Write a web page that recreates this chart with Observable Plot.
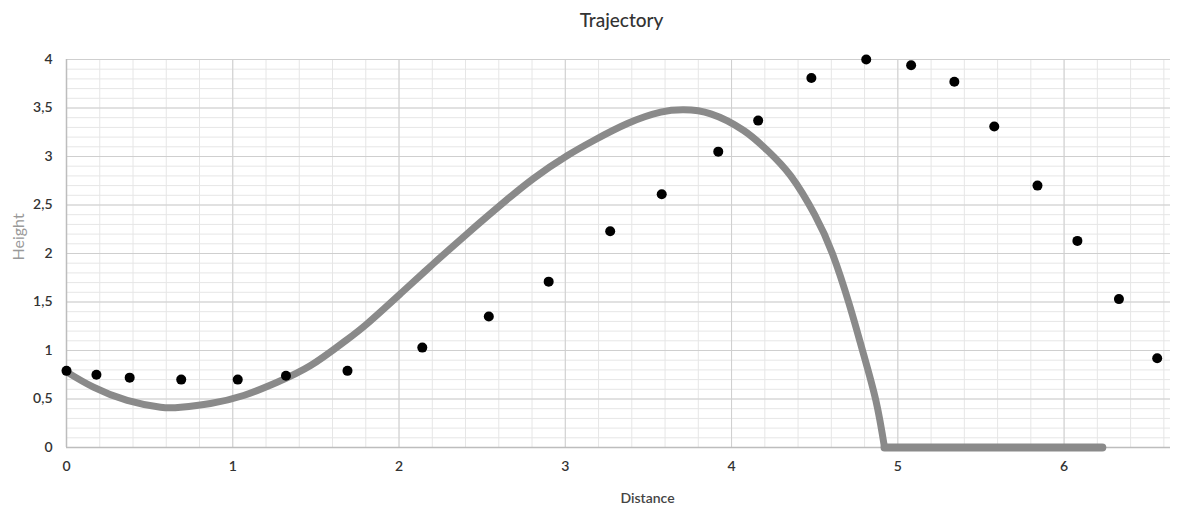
<!DOCTYPE html>
<html>
<head>
<meta charset="utf-8">
<script src="https://cdn.jsdelivr.net/npm/d3@7"></script>
<script src="https://cdn.jsdelivr.net/npm/@observablehq/plot@0.6"></script>
<style>
  html, body { margin: 0; padding: 0; background: #ffffff; }
</style>
</head>
<body>
<div id="chart"></div>
<script>
// Measured points (black dots)
const measX = [0, 0.18, 0.38, 0.69, 1.03, 1.32, 1.69, 2.14, 2.54, 2.90, 3.27, 3.58, 3.92, 4.16, 4.48, 4.81, 5.08, 5.34, 5.58, 5.84, 6.08, 6.33, 6.56];
const measY = [0.79, 0.75, 0.72, 0.70, 0.70, 0.74, 0.79, 1.03, 1.35, 1.71, 2.23, 2.61, 3.05, 3.37, 3.81, 4.00, 3.94, 3.77, 3.31, 2.70, 2.13, 1.53, 0.92];

// Model trajectory (grey curve): flight part
const curveX = [0, 0.162, 0.365, 0.566, 0.686, 0.866, 1.065, 1.267, 1.468, 1.667, 1.809, 2.010, 2.208, 2.411, 2.611, 2.810, 3.013, 3.171, 3.374, 3.574, 3.713, 3.875, 4.073, 4.216, 4.356, 4.500, 4.607, 4.707, 4.788, 4.868, 4.92];
const curveY = [0.78, 0.622, 0.485, 0.415, 0.415, 0.454, 0.536, 0.673, 0.845, 1.086, 1.278, 1.588, 1.897, 2.206, 2.500, 2.775, 3.010, 3.165, 3.340, 3.457, 3.481, 3.440, 3.268, 3.062, 2.800, 2.400, 1.997, 1.481, 0.998, 0.485, 0];
// ground part (curve rests at zero)
const groundX = [4.92, 6.23];
const groundY = [0, 0];

// Axis ticks
const xTicks = [0, 1, 2, 3, 4, 5, 6];
const yTicks = [0, 0.5, 1, 1.5, 2, 2.5, 3, 3.5, 4];
const xMinor = d3.range(0, 6.61, 0.2).map(v => +v.toFixed(2));
const yMinor = d3.range(0, 4.001, 0.1).map(v => +v.toFixed(2));

const measured = measX.map((x, i) => ({x, y: measY[i]}));
const curve = curveX.map((x, i) => ({x, y: curveY[i]}));
const ground = groundX.map((x, i) => ({x, y: groundY[i]}));

const fmt = d => String(d).replace(".", ",");

const lineStyle = { x: "x", y: "y", stroke: "#8a8a8a", strokeWidth: 7, strokeLinecap: "round", strokeLinejoin: "round" };

const chart = Plot.plot({
  width: 1181,
  height: 515,
  marginLeft: 66,
  marginRight: 11,
  marginTop: 59,
  marginBottom: 68,
  style: { fontFamily: "Lato, 'Open Sans', sans-serif", fontSize: "14px", color: "#333", background: "#ffffff" },
  x: { domain: [0, 6.64] },
  y: { domain: [0, 4] },
  marks: [
    Plot.ruleX(xMinor, { stroke: "#e6e6e6", strokeWidth: 1 }),
    Plot.ruleY(yMinor, { stroke: "#e6e6e6", strokeWidth: 1 }),
    Plot.ruleX(xTicks, { stroke: "#cfcfcf", strokeWidth: 1 }),
    Plot.ruleY(yTicks, { stroke: "#cfcfcf", strokeWidth: 1 }),
    Plot.ruleY([0], { stroke: "#bdbdbd", strokeWidth: 1.5 }),
    Plot.ruleX([0], { stroke: "#bdbdbd", strokeWidth: 1.5 }),
    Plot.axisX({ ticks: xTicks, tickSize: 0, tickPadding: 14, label: null, tickFormat: fmt, fill: "#333", fontWeight: 600 }),
    Plot.axisY({ ticks: yTicks, tickSize: 0, tickPadding: 14, label: null, tickFormat: fmt, fill: "#333", fontWeight: 600 }),
    Plot.line(curve, { ...lineStyle, curve: "natural" }),
    Plot.line(ground, { ...lineStyle, strokeWidth: 8 }),
    Plot.dot(measured, { x: "x", y: "y", r: 5, fill: "#000000", stroke: "none" }),
    Plot.text(["Trajectory"], { frameAnchor: "top", dy: -46, dx: 3, fontSize: 19, fill: "#333", fontWeight: 500 }),
    Plot.text(["Distance"], { frameAnchor: "bottom", dy: 55, dx: 29, fontSize: 14, fill: "#444", fontWeight: 600 }),
    Plot.text(["Height"], { frameAnchor: "left", dx: -48, dy: 7, rotate: -90, fontSize: 16, fill: "#999" })
  ]
});
document.getElementById("chart").appendChild(chart);
</script>
</body>
</html>
